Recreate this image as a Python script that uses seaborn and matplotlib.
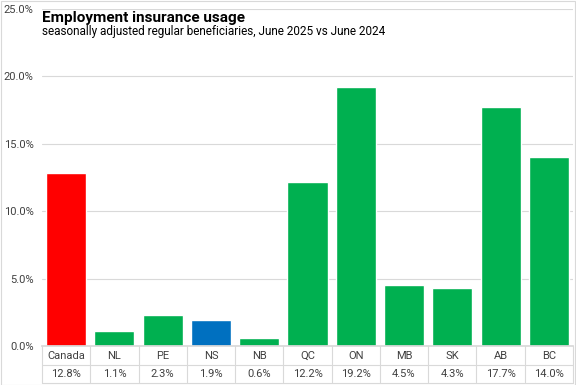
import matplotlib
matplotlib.use("Agg")
import matplotlib.pyplot as plt
import matplotlib.transforms as mtransforms
import seaborn as sns
import pandas as pd

# data
regions = ["Canada", "NL", "PE", "NS", "NB", "QC", "ON", "MB", "SK", "AB", "BC"]
change = [12.8, 1.1, 2.3, 1.9, 0.6, 12.2, 19.2, 4.5, 4.3, 17.7, 14.0]
bar_colors = ["#FF0000", "#00B050", "#00B050", "#0070C0", "#00B050", "#00B050",
              "#00B050", "#00B050", "#00B050", "#00B050", "#00B050"]
yticks = [0, 5, 10, 15, 20, 25]

df = pd.DataFrame({"region": regions, "change": change})

sns.set_theme(style="white")
plt.rcParams["font.family"] = ["Roboto", "DejaVu Sans"]

fig = plt.figure(figsize=(5.76, 3.85), dpi=100)
ax = fig.add_axes([42 / 576, 1 - 346 / 385, (573 - 42) / 576, (346 - 9) / 385])

sns.barplot(data=df, x="region", y="change", hue="region", order=regions,
            palette=bar_colors, legend=False, width=0.83, saturation=1, ax=ax)

ax.set_ylim(0, 25)
ax.set_xlim(-0.5, len(regions) - 0.5)
ax.set_yticks(yticks)
ax.set_yticklabels([f"{t:.1f}%" for t in yticks], fontsize=8, color="#404040")
ax.tick_params(axis="y", length=0, pad=6)
ax.set_xticks([])
ax.set_xlabel("")
ax.set_ylabel("")
ax.yaxis.grid(True, color="#D9D9D9", linewidth=0.8)
ax.set_axisbelow(True)
for s in ["top", "right", "left"]:
    ax.spines[s].set_visible(False)
ax.spines["bottom"].set_color("#D9D9D9")

# data table under the axis
trans = mtransforms.blended_transform_factory(ax.transData, fig.transFigure)
y_lab = 1 - 356 / 385
y_val = 1 - 374 / 385
for i, (r, v) in enumerate(zip(regions, change)):
    ax.text(i, y_lab, r, transform=trans, ha="center", va="center",
            fontsize=8, color="#404040", clip_on=False)
    ax.text(i, y_val, f"{v:.1f}%", transform=trans, ha="center", va="center",
            fontsize=8, color="#404040", clip_on=False)
line_kw = dict(transform=trans, color="#D9D9D9", linewidth=0.8, clip_on=False)
for i in range(len(regions) + 1):
    x = i - 0.5
    ax.plot([x, x], [1 - 346 / 385, 1 - 383 / 385], **line_kw)
for yy in [365, 383]:
    ax.plot([-0.5, len(regions) - 0.5], [1 - yy / 385] * 2, **line_kw)

# titles
fig.text(42 / 576, 1 - 18 / 385, "Employment insurance usage", fontsize=11,
         fontweight="bold", va="center", ha="left", color="black")
fig.text(42 / 576, 1 - 32 / 385,
         "seasonally adjusted regular beneficiaries, June 2025 vs June 2024",
         fontsize=8.5, va="center", ha="left", color="black")

# chart border
fig.patches.append(plt.Rectangle((0.001, 0.001), 0.997, 0.997, transform=fig.transFigure,
                                 fill=False, edgecolor="#D9D9D9", linewidth=0.8))

fig.savefig("out.png", dpi=100)
